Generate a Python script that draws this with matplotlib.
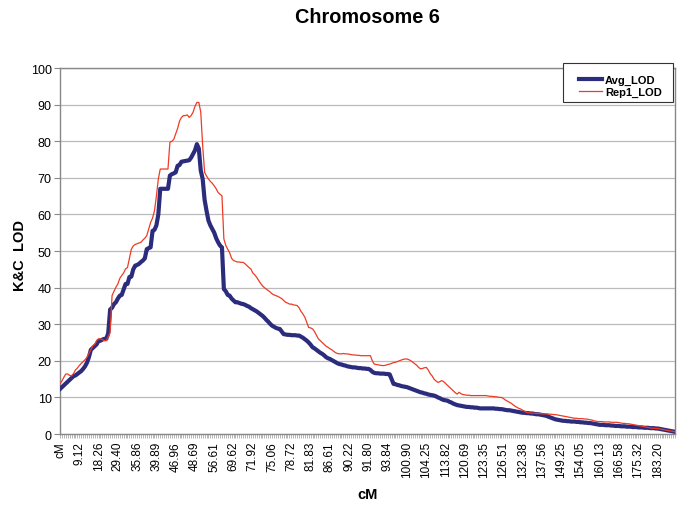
import numpy as np
import matplotlib
matplotlib.use('Agg')
import matplotlib.pyplot as plt
from matplotlib.patches import Rectangle

# labels of the cM axis, one every 10 markers
tick_labels = ['cM', '9.12', '18.26', '29.40', '35.86', '39.89', '46.96', '48.69',
               '56.61', '69.62', '71.92', '75.06', '78.72', '81.83', '86.61', '90.22',
               '91.80', '93.84', '100.90', '104.25', '113.82', '120.69', '123.35',
               '126.51', '132.38', '137.56', '149.25', '154.05', '160.13', '166.58',
               '175.32', '183.20']

# LOD per marker
avg_lod = [
    12.3, 12.8, 13.3, 13.8, 14.3, 14.8, 15.3, 15.8, 16.0, 16.4,
    16.8, 17.2, 17.8, 18.5, 19.5, 21.0, 23.0, 23.5, 24.0, 24.5,
    25.5, 25.5, 25.8, 26.0, 26.0, 27.5, 34.0, 34.5, 35.5, 36.0,
    37.0, 37.8, 38.0, 39.5, 41.0, 41.0, 42.9, 43.0, 45.0, 46.0,
    46.2, 46.5, 47.0, 47.4, 48.0, 50.5, 50.8, 51.0, 55.5, 55.8,
    57.0, 60.0, 67.0, 67.0, 67.0, 67.0, 67.0, 70.6, 71.0, 71.2,
    71.5, 73.3, 73.5, 74.4, 74.5, 74.6, 74.7, 74.8, 75.5, 76.5,
    77.5, 79.2, 78.0, 72.0, 69.7, 64.0, 61.0, 58.3, 57.0, 56.0,
    55.0, 53.5, 52.4, 51.5, 51.0, 39.6, 39.0, 38.0, 37.8, 37.0,
    36.5, 36.0, 36.0, 35.8, 35.6, 35.5, 35.3, 35.0, 34.8, 34.4,
    34.1, 33.8, 33.5, 33.1, 32.7, 32.3, 31.8, 31.2, 30.7, 30.1,
    29.6, 29.3, 29.0, 28.8, 28.7, 28.0, 27.3, 27.2, 27.1, 27.1,
    27.0, 27.0, 27.0, 26.9, 26.9, 26.6, 26.3, 25.9, 25.5, 25.0,
    24.4, 23.7, 23.4, 23.0, 22.6, 22.2, 21.9, 21.5, 21.0, 20.7,
    20.5, 20.2, 19.9, 19.6, 19.3, 19.1, 19.0, 18.8, 18.7, 18.5,
    18.4, 18.3, 18.2, 18.2, 18.1, 18.0, 18.0, 17.9, 17.9, 17.8,
    17.8, 17.5, 17.0, 16.7, 16.6, 16.6, 16.5, 16.5, 16.5, 16.4,
    16.4, 16.3, 15.0, 13.7, 13.6, 13.4, 13.3, 13.1, 13.0, 12.9,
    12.8, 12.6, 12.4, 12.2, 12.0, 11.8, 11.6, 11.4, 11.3, 11.1,
    11.0, 10.8, 10.7, 10.6, 10.5, 10.3, 10.0, 9.8, 9.5, 9.3,
    9.2, 9.1, 8.8, 8.6, 8.3, 8.1, 7.9, 7.8, 7.7, 7.6,
    7.5, 7.4, 7.4, 7.3, 7.3, 7.2, 7.2, 7.1, 7.0, 7.0,
    7.0, 7.0, 7.0, 7.0, 7.0, 7.0, 6.9, 6.9, 6.8, 6.8,
    6.7, 6.6, 6.5, 6.5, 6.4, 6.3, 6.2, 6.1, 6.0, 5.9,
    5.8, 5.8, 5.7, 5.7, 5.6, 5.6, 5.5, 5.4, 5.4, 5.3,
    5.2, 5.1, 5.0, 4.8, 4.6, 4.4, 4.2, 4.0, 3.9, 3.8,
    3.7, 3.6, 3.6, 3.5, 3.5, 3.4, 3.4, 3.4, 3.3, 3.3,
    3.2, 3.2, 3.1, 3.1, 3.0, 3.0, 2.9, 2.8, 2.7, 2.6,
    2.5, 2.5, 2.5, 2.4, 2.4, 2.4, 2.3, 2.3, 2.2, 2.2,
    2.2, 2.1, 2.1, 2.1, 2.0, 2.0, 2.0, 1.9, 1.9, 1.9,
    1.8, 1.8, 1.8, 1.7, 1.7, 1.7, 1.6, 1.6, 1.6, 1.5,
    1.5, 1.4, 1.3, 1.2, 1.1, 1.0, 0.9, 0.8, 0.7, 0.6,
]

rep1_lod = [
    13.7, 14.5, 15.5, 16.4, 16.4, 16.0, 15.9, 16.5, 17.5, 18.0,
    18.7, 19.3, 19.8, 20.3, 21.0, 22.0, 23.0, 24.1, 24.5, 25.5,
    26.0, 26.0, 25.8, 25.5, 25.5, 26.5, 27.8, 37.8, 39.0, 40.1,
    41.0, 42.5, 43.3, 44.0, 45.1, 45.5, 48.0, 50.5, 51.4, 51.8,
    52.0, 52.2, 52.4, 53.0, 53.5, 54.2, 56.0, 57.8, 59.0, 61.0,
    65.0, 69.7, 72.4, 72.4, 72.4, 72.4, 72.4, 79.7, 80.0, 80.5,
    82.0, 83.5, 85.5, 86.5, 87.0, 87.0, 87.2, 86.5, 87.0, 87.9,
    89.5, 90.6, 90.6, 88.0, 78.8, 71.5, 70.5, 69.7, 69.0, 68.5,
    67.8, 67.0, 66.0, 65.5, 65.1, 53.3, 51.5, 50.5, 49.5, 48.0,
    47.4, 47.2, 47.0, 47.0, 46.9, 46.9, 46.5, 46.0, 45.5, 45.1,
    44.0, 43.5, 42.8, 42.0, 41.2, 40.5, 40.0, 39.6, 39.2, 38.8,
    38.3, 38.0, 37.8, 37.6, 37.3, 37.0, 36.5, 36.0, 35.8, 35.5,
    35.5, 35.3, 35.2, 35.1, 34.5, 33.5, 32.8, 31.9, 30.5, 29.1,
    29.0, 28.7, 28.0, 27.0, 26.0, 25.5, 25.0, 24.5, 24.0, 23.7,
    23.3, 23.0, 22.6, 22.2, 22.0, 21.9, 21.9, 22.0, 21.9, 21.9,
    21.8, 21.7, 21.6, 21.6, 21.5, 21.5, 21.4, 21.4, 21.4, 21.4,
    21.4, 21.4, 20.0, 19.1, 19.0, 18.9, 18.8, 18.7, 18.7, 18.8,
    19.0, 19.1, 19.3, 19.5, 19.6, 19.8, 20.0, 20.2, 20.4, 20.5,
    20.5, 20.3, 20.0, 19.6, 19.2, 18.8, 18.2, 17.8, 17.9, 18.1,
    18.2, 17.5, 16.5, 15.9, 15.0, 14.5, 14.1, 14.3, 14.6, 14.3,
    13.8, 13.3, 12.8, 12.3, 11.8, 11.3, 10.9, 11.4, 11.0, 10.8,
    10.7, 10.6, 10.6, 10.5, 10.5, 10.5, 10.5, 10.5, 10.5, 10.5,
    10.5, 10.5, 10.4, 10.3, 10.3, 10.2, 10.2, 10.1, 10.0, 10.0,
    9.7, 9.3, 9.0, 8.7, 8.4, 8.0, 7.6, 7.3, 7.0, 6.8,
    6.5, 6.2, 5.9, 5.8, 5.8, 5.7, 5.7, 5.6, 5.6, 5.6,
    5.5, 5.5, 5.5, 5.5, 5.4, 5.4, 5.3, 5.3, 5.2, 5.1,
    5.0, 4.9, 4.8, 4.7, 4.6, 4.5, 4.4, 4.3, 4.3, 4.2,
    4.2, 4.2, 4.1, 4.1, 4.0, 3.9, 3.8, 3.6, 3.5, 3.4,
    3.4, 3.4, 3.3, 3.3, 3.3, 3.3, 3.2, 3.2, 3.2, 3.2,
    3.1, 3.0, 2.9, 2.9, 2.8, 2.8, 2.7, 2.6, 2.5, 2.4,
    2.3, 2.2, 2.1, 2.0, 1.9, 1.8, 1.7, 1.6, 1.6, 1.5,
    1.5, 1.4, 1.3, 1.2, 1.1, 1.0, 0.9, 0.8, 0.7, 0.6,
]

plt.rcParams['font.family'] = ['Liberation Sans', 'DejaVu Sans']

n = len(avg_lod)
x = np.arange(n)

fig = plt.figure(figsize=(6.85, 5.06), dpi=100)
ax = fig.add_axes([0.0876, 0.1403, 0.8978, 0.7233])

ax.plot(x, avg_lod, color='#2B2C7C', linewidth=3.0, label='Avg_LOD', zorder=3)
ax.plot(x, rep1_lod, color='#EE3B24', linewidth=0.9, label='Rep1_LOD', zorder=4)

ax.set_xlim(0, n - 1)
ax.set_ylim(0, 100)
ax.set_yticks(range(0, 101, 10))
ax.grid(axis='y', color='#BBBBBB', linewidth=0.9)
ax.set_axisbelow(True)

ax.set_xticks(np.arange(0, n, 10))
ax.set_xticklabels(tick_labels, rotation=90, fontsize=8.5)
ax.set_xticks(x, minor=True)
ax.tick_params(axis='x', which='both', length=3, width=0.5, color='#999999', pad=2)
ax.tick_params(axis='y', length=4, width=0.8, color='#888888', labelsize=9, pad=2)

for s in ax.spines.values():
    s.set_color('#888888')
    s.set_linewidth(1.0)

ax.set_xlabel('cM', fontsize=10.5, fontweight='bold', labelpad=7)
ax.set_ylabel('K&C  LOD', fontsize=10.5, fontweight='bold')
ax.yaxis.set_label_coords(-0.054, 0.49)
fig.suptitle('Chromosome 6', x=0.537, y=0.985, fontsize=14.3, fontweight='bold')

# legend box drawn separately (Excel-style padding)
box = Rectangle((0.8219, 0.7964), 0.1606, 0.0771, transform=fig.transFigure,
                facecolor='white', edgecolor='#333333', linewidth=0.8,
                zorder=5, clip_on=False)
ax.add_patch(box)
leg = ax.legend(loc='upper left', bbox_to_anchor=(0.845, 0.851),
                bbox_transform=fig.transFigure, frameon=False,
                prop={'weight': 'bold', 'size': 8}, handlelength=2.1,
                borderpad=0, borderaxespad=0, labelspacing=0.25, handletextpad=0.25)
leg.set_zorder(6)

fig.savefig('out.png', dpi=100)
